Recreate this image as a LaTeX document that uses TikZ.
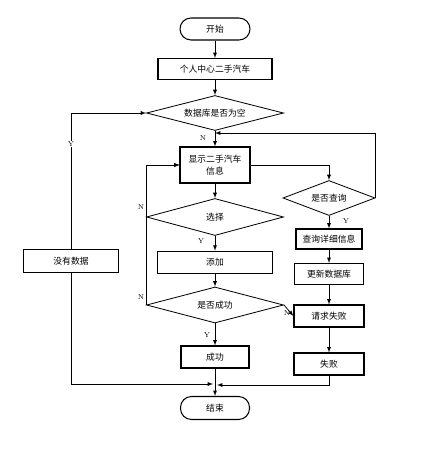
\documentclass[tikz,border=0pt]{standalone}
\usepackage{fontspec}
\newfontfamily\cjk{Noto Sans CJK SC}
\usetikzlibrary{shapes.geometric}

\tikzset{
  box/.style={draw, line width=0.9pt, inner sep=1pt, font=\cjk\fontsize{7.5}{10}\selectfont, align=center},
  term/.style={box, rounded corners=0.33cm},
  dec/.style={draw, line width=0.7pt, diamond, aspect=4, inner sep=0pt, font=\cjk\fontsize{7.5}{9}\selectfont},
  arr/.style={-latex, line width=0.6pt},
  yn/.style={font=\fontsize{6}{7}\selectfont, inner sep=0.5pt}
}

\begin{document}
\begin{tikzpicture}[x=0.03cm, y=-0.03cm]
    \useasboundingbox (0,0) rectangle (437,455);
    %colonna centrale
    \node[term, minimum width=2.1cm, minimum height=0.66cm] (start) at (215,29) {开始};
    \node[box, minimum width=3.42cm, minimum height=0.63cm] (center) at (215,69) {个人中心二手汽车};
    \node[dec, minimum width=4.11cm, minimum height=1.05cm] (isempty) at (215,113) {数据库是否为空};
    \node[box, minimum width=2.1cm, minimum height=1.08cm] (show) at (215,165) {显示二手汽车\\信息};
    \node[dec, minimum width=4.11cm, minimum height=1.11cm] (choose) at (215,217) {选择};
    \node[box, line width=0.5pt, minimum width=3.45cm, minimum height=0.66cm] (add) at (215,262) {添加};
    \node[dec, minimum width=4.11cm, minimum height=1.08cm] (isok) at (215,305) {是否成功};
    \node[box, minimum width=2.04cm, minimum height=0.66cm] (ok) at (215,357) {成功};
    \node[term, minimum width=2.07cm, minimum height=0.69cm] (stop) at (215,408) {结束};
    %colonna destra
    \node[dec, minimum width=2.76cm, minimum height=1.05cm] (isquery) at (329,198) {是否查询};
    \node[box, minimum width=1.98cm, minimum height=0.6cm] (detail) at (329,239) {查询详细信息};
    \node[box, minimum width=2.07cm, minimum height=0.63cm] (update) at (329,274) {更新数据库};
    \node[box, minimum width=2.1cm, minimum height=0.66cm] (reqfail) at (329,316) {请求失败};
    \node[box, minimum width=2.1cm, minimum height=0.66cm] (fail) at (329,364) {失败};
    %colonna sinistra
    \node[box, minimum width=2.85cm, minimum height=0.69cm] (nodata) at (71,261) {没有数据};

    %punti di raccordo
    \coordinate (backin) at (215,133);
    \coordinate (joinl) at (213,384);
    \coordinate (joinr) at (217,385);

    %frecce centrali
    \draw[arr] (start) -- (center);
    \draw[arr] (center) -- (isempty);
    \draw[arr] (isempty) -- (show);
    \draw[arr] (show) -- (choose);
    \draw[arr] (choose) -- (add);
    \draw[arr] (add) -- (isok);
    \draw[arr] (isok) -- (ok);
    \draw[arr] (ok) -- (stop);
    %frecce destra
    \draw[arr] (show.east) -| (isquery.north);
    \draw[arr] (isquery.east) |- (backin);
    \draw[arr] (isquery) -- (detail);
    \draw[arr] (detail) -- (update);
    \draw[arr] (update) -- (reqfail);
    \draw[arr] (reqfail) -- (fail);
    \draw[arr] (isok.east) -- (reqfail.west);
    \draw[arr] (fail.south) |- (joinr);
    %frecce sinistra
    \draw[arr] (choose.west) |- (show.west);
    \draw[arr] (isok.west) |- (show.west);
    \draw[arr] (nodata.north) |- (isempty.west);
    \draw[arr] (nodata.south) |- (joinl);

    %label Y e N
    \node[yn] at (203,138) {N};
    \node[yn] at (346,221) {Y};
    \node[yn] at (201,241) {Y};
    \node[yn] at (207,335) {Y};
    \node[yn] at (141,207) {N};
    \node[yn] at (141,297) {N};
    \node[yn] at (287,313) {N};
    \node[yn, fill=white] at (71,144) {Y};
\end{tikzpicture}
\end{document}
